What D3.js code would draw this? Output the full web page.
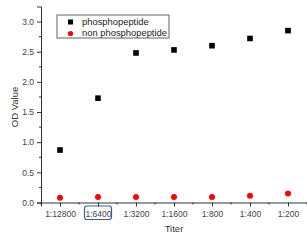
<!DOCTYPE html>
<html>
<head>
<meta charset="utf-8">
<script src="https://cdn.jsdelivr.net/npm/d3@7"></script>
<style>
  body { margin: 0; background: #fff; }
  svg { font-family: "Liberation Sans", Arial, sans-serif; }
</style>
</head>
<body>
<div id="chart"></div>
<script>
// chart data
const titers = ["1:12800", "1:6400", "1:3200", "1:1600", "1:800", "1:400", "1:200"];
const phospho = [0.87, 1.73, 2.48, 2.53, 2.60, 2.72, 2.85];
const nonPhospho = [0.08, 0.09, 0.09, 0.09, 0.09, 0.11, 0.15];
const yTicks = [0, 0.5, 1.0, 1.5, 2.0, 2.5, 3.0];
const seriesNames = ["phosphopeptide", "non phosphopeptide"];

let width = 307;
let height = 242;
let axisColor = "#333";

let svg = d3.select("#chart")
    .append("svg")
    .attr("width", width)
    .attr("height", height);

// x is index based so the minor ticks fall between categories
let x = d3.scaleLinear()
    .domain([-0.5, titers.length - 0.5])
    .range([41, 307]);

let y = d3.scaleLinear()
    .domain([0, 3.25])
    .range([202.5, 6.5]);

// legend frame first, so it sits under everything
svg.append("rect")
    .attr("x", 57).attr("y", 15)
    .attr("width", 112).attr("height", 23)
    .attr("fill", "#fff")
    .attr("stroke", "#888")
    .attr("stroke-width", 1.3);

// y axis
let yAxis = svg.append("g")
    .attr("transform", "translate(41,0)")
    .call(d3.axisLeft(y).tickValues(yTicks).tickFormat(d3.format(".1f")).tickSize(4).tickPadding(3));
yAxis.select(".domain").attr("stroke", axisColor);
yAxis.selectAll(".tick line").attr("stroke", axisColor);
yAxis.selectAll(".tick text").attr("fill", "#444").style("font-size", "8.5px");

svg.append("g")
    .selectAll("line")
    .data(d3.range(0.25, 3.25, 0.5))
    .enter().append("line")
    .attr("x1", 39).attr("x2", 41)
    .attr("y1", d => y(d)).attr("y2", d => y(d))
    .attr("stroke", axisColor);

// x axis
let xAxis = svg.append("g")
    .attr("transform", "translate(0,202.5)")
    .call(d3.axisBottom(x).tickValues(d3.range(titers.length)).tickFormat(i => titers[i]).tickSize(4).tickPadding(4));
xAxis.select(".domain").attr("stroke", axisColor);
xAxis.selectAll(".tick line").attr("stroke", axisColor);
xAxis.selectAll(".tick text").attr("fill", "#444").style("font-size", "8.5px");

svg.append("g")
    .selectAll("line")
    .data(d3.range(-0.5, titers.length, 1))
    .enter().append("line")
    .attr("x1", d => x(d)).attr("x2", d => x(d))
    .attr("y1", 202.5).attr("y2", 204.5)
    .attr("stroke", axisColor);

// box around 1:6400
svg.append("rect")
    .attr("x", x(1) - 13.5)
    .attr("y", 206)
    .attr("width", 27)
    .attr("height", 13.5)
    .attr("rx", 2.5)
    .attr("fill", "none")
    .attr("stroke", "#3d6285")
    .attr("stroke-width", 1.2);

// axis titles
svg.append("text")
    .attr("x", x(3))
    .attr("y", 232)
    .attr("text-anchor", "middle")
    .style("font-size", "9.5px")
    .attr("fill", "#333")
    .text("Titer");

svg.append("text")
    .attr("transform", "translate(18,107) rotate(-90)")
    .attr("text-anchor", "middle")
    .style("font-size", "9.5px")
    .attr("fill", "#333")
    .text("OD Value");

// points
svg.selectAll(".sq")
    .data(phospho)
    .enter().append("rect")
    .attr("class", "sq")
    .attr("x", (d, i) => x(i) - 2.8)
    .attr("y", d => y(d) - 2.8)
    .attr("width", 5.6)
    .attr("height", 5.6)
    .attr("fill", "#000");

svg.selectAll(".dot")
    .data(nonPhospho)
    .enter().append("circle")
    .attr("class", "dot")
    .attr("cx", (d, i) => x(i))
    .attr("cy", d => y(d))
    .attr("r", 3)
    .attr("fill", "#f00");

// legend entries
let legend = svg.append("g");
legend.append("rect")
    .attr("x", 68).attr("y", 19.5)
    .attr("width", 5).attr("height", 5)
    .attr("fill", "#000");
legend.append("circle")
    .attr("cx", 70.5).attr("cy", 33.5)
    .attr("r", 2.6)
    .attr("fill", "#f00");
legend.selectAll(".lbl")
    .data(seriesNames)
    .enter().append("text")
    .attr("class", "lbl")
    .attr("x", 82)
    .attr("y", (d, i) => 25.2 + i * 10.5)
    .style("font-size", "9.4px")
    .attr("fill", "#222")
    .text(d => d);
</script>
</body>
</html>
